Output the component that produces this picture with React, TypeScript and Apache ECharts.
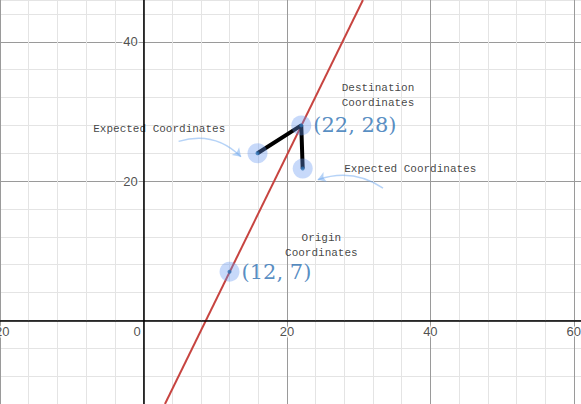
import React from 'react';
import * as echarts from 'echarts';

// data
const redLine = [[3.0, -12], [30.6, 46]];
const knownPoints = [[12, 7], [22, 28]];
const knownLabels = ['(12, 7)', '(22, 28)'];
const expectedPoints = [[15.9, 24], [22.2, 21.8]];
const blackPath = [[15.9, 24], [22, 28], [22.2, 21.8]];
const notes = [
  { text: 'Destination\nCoordinates', at: [32.7, 32.3] },
  { text: 'Origin\nCoordinates', at: [24.8, 10.8] },
  { text: 'Expected Coordinates', at: [2.2, 27.5] },
  { text: 'Expected Coordinates', at: [37.2, 21.7] },
];
const arrows = [
  { coords: [[4.9, 25.7], [13.6, 23.5]], curve: 0.3 },
  { coords: [[33.4, 19], [24.3, 20.2]], curve: -0.25 },
];
const xTickLabels = [-20, 0, 20, 40, 60];
const yTickLabels = [20, 40];

const MAJOR = '#9a9a9a';
const MINOR = '#e4e4e4';
const BLUE = '#2d70b3';

const App: React.FC = () => {
  const ref = React.useRef<HTMLDivElement>(null);

  React.useEffect(() => {
    document.body.style.margin = '0';
    if (!ref.current) return;
    const chart = echarts.init(ref.current, undefined, { renderer: 'svg' });
    const tickText = {
      show: true, position: 'inside', formatter: '{b}',
      color: '#222', fontSize: 13, fontFamily: 'Arial',
      textBorderColor: '#fff', textBorderWidth: 3,
    };
    chart.setOption({
      animation: false,
      grid: { left: 0, right: 0, top: 0, bottom: 0, containLabel: false, outerBoundsMode: 'none' },
      xAxis: {
        type: 'value', min: -20, max: 61, interval: 4,
        axisLine: { show: false }, axisTick: { show: false }, axisLabel: { show: false },
        splitLine: { lineStyle: { color: [MAJOR, MINOR, MINOR, MINOR, MINOR], width: 1 } },
      },
      yAxis: {
        type: 'value', min: -12, max: 46, interval: 4,
        axisLine: { show: false }, axisTick: { show: false }, axisLabel: { show: false },
        splitLine: { lineStyle: { color: [MINOR, MINOR, MINOR, MAJOR, MINOR], width: 1 } },
      },
      series: [
        {
          type: 'line', data: redLine, symbol: 'none',
          lineStyle: { color: '#c74440', width: 2 },
          markLine: {
            silent: true, symbol: 'none', label: { show: false },
            lineStyle: { color: '#000', width: 1.5, type: 'solid' },
            data: [{ xAxis: 0 }, { yAxis: 0 }],
          },
          z: 2,
        },
        {
          type: 'line', data: blackPath, symbol: 'none',
          lineStyle: { color: '#000', width: 4 }, z: 3,
        },
        {
          type: 'lines', coordinateSystem: 'cartesian2d',
          data: arrows.map((a) => ({ coords: a.coords, lineStyle: { curveness: a.curve } })),
          symbol: ['none', 'arrow'], symbolSize: 8,
          lineStyle: { color: '#6ea8f0', width: 1.5 },
        },
        {
          type: 'scatter', data: [...knownPoints, ...expectedPoints],
          symbolSize: 20, itemStyle: { color: 'rgba(100,150,240,0.45)' }, z: 4,
        },
        {
          type: 'scatter', data: [...knownPoints, ...expectedPoints],
          symbolSize: 4, itemStyle: { color: BLUE }, z: 5,
        },
        {
          type: 'scatter',
          data: knownPoints.map((p, i) => ({ value: p, name: knownLabels[i] })),
          symbolSize: 0,
          label: {
            show: true, position: 'right', distance: 12,
            formatter: '{b}', color: BLUE, fontSize: 21, fontFamily: 'DejaVu Serif',
          },
        },
        {
          type: 'scatter',
          data: notes.map((n) => ({ value: n.at, name: n.text })),
          symbolSize: 0,
          label: {
            show: true, position: 'inside', formatter: '{b}',
            color: '#111', fontSize: 11, fontFamily: 'Liberation Mono', lineHeight: 15,
          },
        },
        {
          type: 'scatter',
          data: [
            ...xTickLabels.map((v) => ({ value: [v === 0 ? -0.9 : v, -1.6], name: String(v) })),
            ...yTickLabels.map((v) => ({ value: [-1.8, v], name: String(v) })),
          ],
          symbolSize: 0, label: tickText, z: 6,
        },
      ],
    });
    return () => chart.dispose();
  }, []);

  return <div ref={ref} style={{ width: 581, height: 404 }} />;
};

export default App;
